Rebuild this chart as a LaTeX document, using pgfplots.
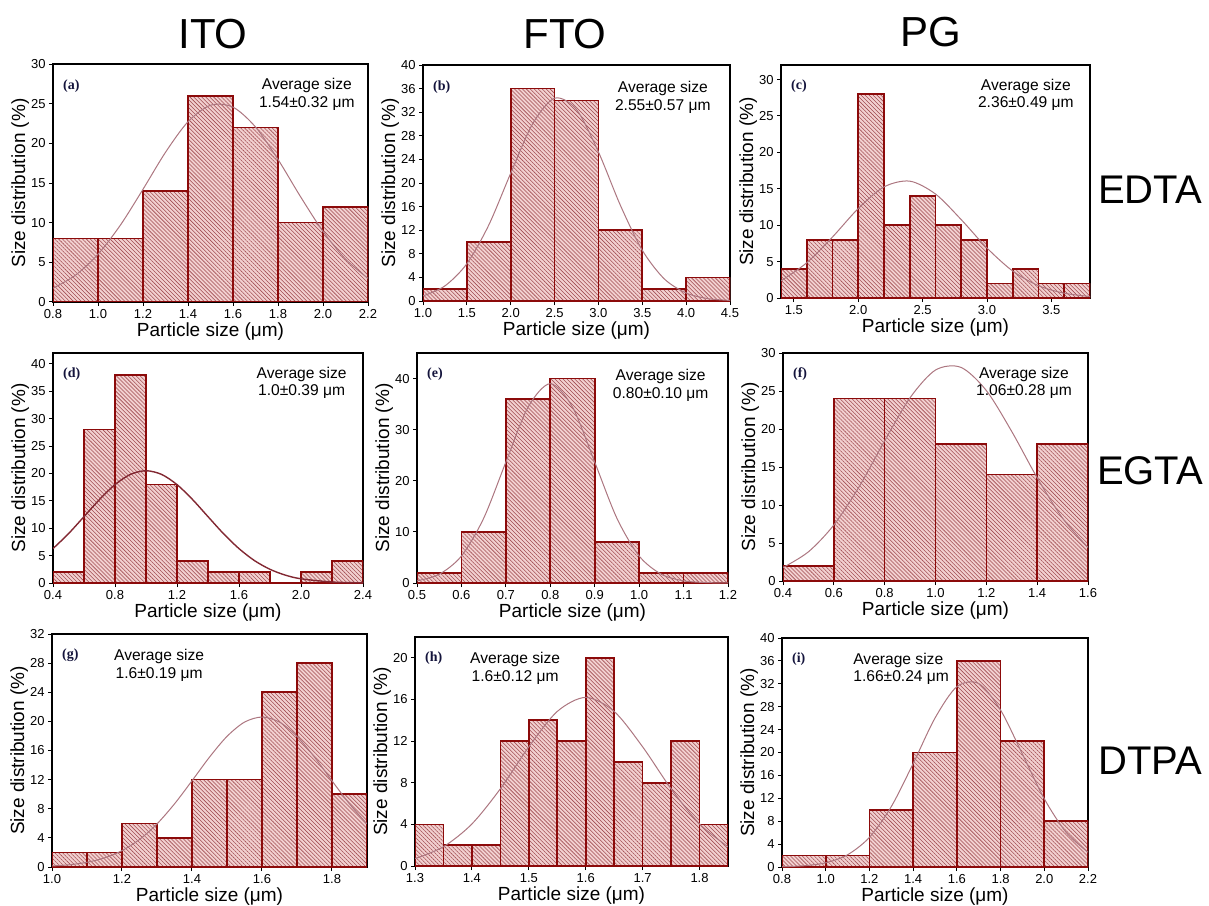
\documentclass[border=0pt]{standalone}
\usepackage{pgfplots}
\pgfplotsset{compat=1.18}
\usetikzlibrary{patterns.meta}
\usepackage{fontspec}
\setmainfont{Liberation Sans}
\newfontfamily\lblfont{Liberation Serif}

\definecolor{barfill}{RGB}{242,208,208}
\definecolor{hatch}{RGB}{160,75,80}
\definecolor{baredge}{RGB}{140,10,10}
\definecolor{fitline}{RGB}{172,118,128}
\definecolor{fitdark}{RGB}{130,40,50}
\definecolor{panellbl}{RGB}{20,20,60}

\tikzset{
  avg/.style={font=\fontsize{7.8}{8.8}\selectfont, align=center},
  plbl/.style={anchor=north west, text=panellbl,
    font=\lblfont\bfseries\fontsize{7}{8}\selectfont},
}

\pgfplotsset{
  panel/.style={
    scale only axis,
    anchor=north west,
    axis line style={line width=1.1pt},
    tick align=outside,
    xtick pos=bottom, ytick pos=left,
    major tick length=2pt,
    tick style={black, line width=0.5pt},
    ymin=0,
    /pgf/number format/assume math mode=true,
    ticklabel style={font=\fontsize{6.5}{7}\selectfont, inner sep=1.5pt},
    xticklabel style={/pgf/number format/.cd, fixed, fixed zerofill, precision=1},
    yticklabel style={/pgf/number format/.cd, fixed, precision=0},
    xlabel={Particle size (μm)},
    ylabel={Size distribution (\%)},
    label style={font=\fontsize{9.5}{10}\selectfont},
    xlabel style={yshift=3pt},
    ylabel style={yshift=-4pt},
  },
  bars/.style={ybar interval, fill=barfill, draw=baredge, line width=0.8pt,
    postaction={pattern color=hatch,
      pattern={Lines[angle=-45,distance=1.4pt,line width=0.28pt]}}},
  fit/.style={fitline, line width=0.5pt, smooth, no marks},
}

\begin{document}
\begin{tikzpicture}
\useasboundingbox (0,0) rectangle (604.5pt,-452.5pt);

% column and row titles
\node[anchor=base, font=\fontsize{21}{21}\selectfont] at (106.5pt,-24pt) {ITO};
\node[anchor=base, font=\fontsize{21}{21}\selectfont] at (282.5pt,-24pt) {FTO};
\node[anchor=base, font=\fontsize{21}{21}\selectfont] at (465.5pt,-23pt) {PG};
\node[anchor=base, font=\fontsize{20}{20}\selectfont] at (575pt,-101.5pt) {EDTA};
\node[anchor=base, font=\fontsize{20}{20}\selectfont] at (575pt,-242pt) {EGTA};
\node[anchor=base, font=\fontsize{20}{20}\selectfont] at (575pt,-387pt) {DTPA};

% (a) ITO / EDTA
\begin{axis}[panel, at={(26.5pt,-32pt)}, width=157.5pt, height=119pt,
  xmin=0.8, xmax=2.2, ymax=30,
  xtick={0.8,1.0,1.2,1.4,1.6,1.8,2.0,2.2}, ytick={0,5,10,15,20,25,30}]
\addplot[bars] coordinates {(0.8,8) (1.0,8) (1.2,14) (1.4,26) (1.6,22) (1.8,10) (2.0,12) (2.2,12)};
\addplot[fit] coordinates {(0.8,1.73) (0.9,3.38) (1.0,6.02) (1.1,9.71) (1.2,14.21) (1.3,18.87)
  (1.4,22.72) (1.5,24.80) (1.6,24.56) (1.7,22.06) (1.8,17.97) (1.9,13.28) (2.0,8.90) (2.1,5.41) (2.2,2.98)};
\node[plbl] at (rel axis cs:0.01,0.965) {(a)};
\node[avg, anchor=north east] at (rel axis cs:0.98,0.97) {Average size\\1.54±0.32 μm};
\end{axis}

% (b) FTO / EDTA
\begin{axis}[panel, at={(211.5pt,-32.5pt)}, width=153.5pt, height=118pt,
  xmin=1.0, xmax=4.5, ymax=40,
  xtick={1.0,1.5,2.0,2.5,3.0,3.5,4.0,4.5}, ytick={0,4,8,12,16,20,24,28,32,36,40}]
\addplot[bars] coordinates {(1.0,2) (1.5,10) (2.0,36) (2.5,34) (3.0,12) (3.5,2) (4.0,4) (4.5,4)};
\addplot[fit] coordinates {(1.0,0.86) (1.25,2.56) (1.5,6.32) (1.75,12.88) (2.0,21.66) (2.25,30.04)
  (2.5,34.37) (2.75,32.44) (3.0,25.26) (3.25,16.23) (3.5,8.60) (3.75,3.76) (4.0,1.36) (4.25,0.40) (4.5,0.10)};
\node[plbl] at (rel axis cs:0.01,0.965) {(b)};
\node[avg, anchor=north east] at (rel axis cs:0.96,0.96) {Average size\\2.55±0.57 μm};
\end{axis}

% (c) PG / EDTA
\begin{axis}[panel, at={(390.5pt,-32.5pt)}, width=154.5pt, height=116.5pt,
  xmin=1.4, xmax=3.8, ymax=32,
  xtick={1.5,2.0,2.5,3.0,3.5}, ytick={0,5,10,15,20,25,30}]
\addplot[bars] coordinates {(1.4,4) (1.6,8) (1.8,8) (2.0,28) (2.2,10) (2.4,14) (2.6,10) (2.8,8)
  (3.0,2) (3.2,4) (3.4,2) (3.6,2) (3.8,2)};
\addplot[fit] coordinates {(1.4,2.36) (1.6,4.84) (1.8,8.38) (2.0,12.29) (2.2,15.26) (2.4,16.05)
  (2.6,14.28) (2.8,10.76) (3.0,6.86) (3.2,3.70) (3.4,1.69) (3.6,0.66) (3.8,0.21)};
\node[plbl] at (rel axis cs:0.01,0.965) {(c)};
\node[avg, anchor=north east] at (rel axis cs:0.97,0.97) {Average size\\2.36±0.49 μm};
\end{axis}

% (d) ITO / EGTA
\begin{axis}[panel, at={(26.5pt,-176.5pt)}, width=155pt, height=115pt,
  xmin=0.4, xmax=2.4, ymax=42,
  xtick={0.4,0.8,1.2,1.6,2.0,2.4}, ytick={0,5,10,15,20,25,30,35,40}]
\addplot[bars] coordinates {(0.4,2) (0.6,28) (0.8,38) (1.0,18) (1.2,4) (1.4,2) (1.6,2) (1.8,0)
  (2.0,2) (2.2,4) (2.4,4)};
\addplot[fit, fitdark, line width=0.7pt] coordinates {(0.4,6.28) (0.5,9.01) (0.6,12.12) (0.7,15.25)
  (0.8,17.97) (0.9,19.84) (1.0,20.5) (1.1,19.84) (1.2,17.97) (1.3,15.25) (1.4,12.12) (1.5,9.01)
  (1.6,6.28) (1.7,4.09) (1.8,2.50) (1.9,1.43) (2.0,0.77) (2.2,0.18) (2.4,0.03)};
\node[plbl] at (rel axis cs:0.01,0.965) {(d)};
\node[avg, anchor=north east] at (rel axis cs:0.97,0.97) {Average size\\1.0±0.39 μm};
\end{axis}

% (e) FTO / EGTA
\begin{axis}[panel, at={(208.5pt,-176.5pt)}, width=155.5pt, height=115pt,
  xmin=0.5, xmax=1.2, ymax=45,
  xtick={0.5,0.6,0.7,0.8,0.9,1.0,1.1,1.2}, ytick={0,10,20,30,40}]
\addplot[bars] coordinates {(0.5,2) (0.6,10) (0.7,36) (0.8,40) (0.9,8) (1.0,2) (1.1,2) (1.2,2)};
\addplot[fit] coordinates {(0.5,0.43) (0.55,1.71) (0.6,5.28) (0.65,12.66) (0.7,23.65) (0.75,34.42)
  (0.8,39) (0.85,34.42) (0.9,23.65) (0.95,12.66) (1.0,5.28) (1.05,1.71) (1.1,0.43) (1.15,0.09) (1.2,0.01)};
\node[plbl] at (rel axis cs:0.01,0.965) {(e)};
\node[avg, anchor=north east] at (rel axis cs:0.96,0.96) {Average size\\0.80±0.10 μm};
\end{axis}

% (f) PG / EGTA
\begin{axis}[panel, at={(391.5pt,-176.5pt)}, width=152.5pt, height=114pt,
  xmin=0.4, xmax=1.6, ymax=30,
  xtick={0.4,0.6,0.8,1.0,1.2,1.4,1.6}, ytick={0,5,10,15,20,25,30}]
\addplot[bars] coordinates {(0.4,2) (0.6,24) (0.8,24) (1.0,18) (1.2,14) (1.4,18) (1.6,18)};
\addplot[fit] coordinates {(0.4,1.77) (0.5,3.84) (0.6,7.37) (0.7,12.43) (0.8,18.45) (0.9,24.12)
  (1.0,27.76) (1.1,28.11) (1.2,25.06) (1.3,19.67) (1.4,13.59) (1.5,8.26) (1.6,4.42)};
\node[plbl] at (rel axis cs:0.01,0.965) {(f)};
\node[avg, anchor=north east] at (rel axis cs:0.97,0.97) {Average size\\1.06±0.28 μm};
\end{axis}

% (g) ITO / DTPA
\begin{axis}[panel, at={(26pt,-317pt)}, width=157.5pt, height=116.5pt,
  xmin=1.0, xmax=1.9, ymax=32,
  xtick={1.0,1.2,1.4,1.6,1.8}, ytick={0,4,8,12,16,20,24,28,32}]
\addplot[bars] coordinates {(1.0,2) (1.1,2) (1.2,6) (1.3,4) (1.4,12) (1.5,12) (1.6,24) (1.7,28)
  (1.8,10) (1.9,10)};
\addplot[fit] coordinates {(1.0,0.14) (1.05,0.31) (1.1,0.65) (1.15,1.25) (1.2,2.25) (1.25,3.78)
  (1.3,5.92) (1.35,8.67) (1.4,11.84) (1.45,15.09) (1.5,17.94) (1.55,19.90) (1.6,20.6) (1.65,19.90)
  (1.7,17.94) (1.75,15.09) (1.8,11.84) (1.85,8.67) (1.9,5.92)};
\node[plbl] at (rel axis cs:0.01,0.965) {(g)};
\node[avg, anchor=north] at (rel axis cs:0.34,0.965) {Average size\\1.6±0.19 μm};
\end{axis}

% (h) FTO / DTPA
\begin{axis}[panel, at={(207.5pt,-318.5pt)}, width=156.5pt, height=114.5pt,
  xmin=1.3, xmax=1.85, ymax=22,
  xtick={1.3,1.4,1.5,1.6,1.7,1.8}, ytick={0,4,8,12,16,20}]
\addplot[bars] coordinates {(1.30,4) (1.35,2) (1.40,2) (1.45,12) (1.50,14) (1.55,12) (1.60,20)
  (1.65,10) (1.70,8) (1.75,12) (1.80,4) (1.85,4)};
\addplot[fit] coordinates {(1.3,0.71) (1.35,1.85) (1.4,4.04) (1.45,7.42) (1.5,11.45) (1.55,14.85)
  (1.6,16.2) (1.65,14.85) (1.7,11.45) (1.75,7.42) (1.8,4.04) (1.85,1.85)};
\node[plbl] at (rel axis cs:0.01,0.965) {(h)};
\node[avg, anchor=north] at (rel axis cs:0.32,0.965) {Average size\\1.6±0.12 μm};
\end{axis}

% (i) PG / DTPA
\begin{axis}[panel, at={(391pt,-319pt)}, width=153pt, height=114.5pt,
  xmin=0.8, xmax=2.2, ymax=40,
  xtick={0.8,1.0,1.2,1.4,1.6,1.8,2.0,2.2}, ytick={0,4,8,12,16,20,24,28,32,36,40}]
\addplot[bars] coordinates {(0.8,2) (1.0,2) (1.2,10) (1.4,20) (1.6,36) (1.8,22) (2.0,8) (2.2,8)};
\addplot[fit] coordinates {(0.8,0.05) (0.9,0.22) (1.0,0.74) (1.1,2.14) (1.2,5.18) (1.3,10.55)
  (1.4,18.07) (1.5,26.02) (1.6,31.50) (1.7,32.05) (1.8,27.41) (1.9,19.71) (2.0,11.91) (2.1,6.05) (2.2,2.59)};
\node[plbl] at (rel axis cs:0.01,0.965) {(i)};
\node[avg, anchor=north west, align=left] at (rel axis cs:0.21,0.965) {Average size\\1.66±0.24 μm};
\end{axis}
\end{tikzpicture}
\end{document}
